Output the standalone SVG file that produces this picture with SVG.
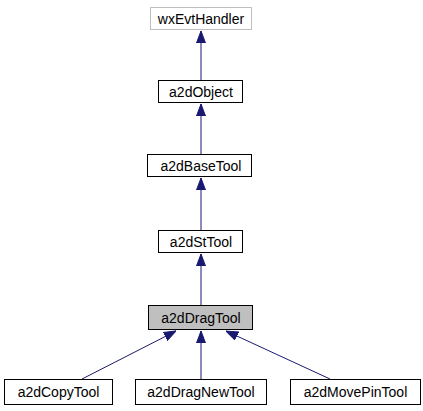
<svg xmlns="http://www.w3.org/2000/svg" width="423" height="411" viewBox="0 0 423 411">
<defs>
<style>
.box{fill:#ffffff;stroke:#000000;stroke-width:1}
.gbox{fill:#ffffff;stroke:#bfbfbf;stroke-width:1}
.cur{fill:#bfbfbf;stroke:#000000;stroke-width:1}
.lbl{font-family:"Liberation Sans",Arial,sans-serif;font-size:14px;fill:#000000;text-anchor:middle}
.edge{stroke:#191970;stroke-width:1;fill:none}
</style>
<marker id="ah" viewBox="0 0 12 10" refX="12" refY="5" markerWidth="12" markerHeight="10" markerUnits="userSpaceOnUse" orient="auto">
<path d="M0,0.5 L12,5 L0,9.5 Z" fill="#191970" stroke="#191970"/>
</marker>
</defs>
<rect width="423" height="411" fill="#ffffff"/>
<g id="edges">
<line class="edge" x1="201" y1="80" x2="201" y2="31" marker-end="url(#ah)"/>
<line class="edge" x1="201" y1="154" x2="201" y2="104" marker-end="url(#ah)"/>
<line class="edge" x1="201" y1="230" x2="201" y2="178" marker-end="url(#ah)"/>
<line class="edge" x1="201" y1="305" x2="201" y2="254" marker-end="url(#ah)"/>
<line class="edge" x1="201" y1="379" x2="201" y2="331" marker-end="url(#ah)"/>
<line class="edge" x1="82" y1="379" x2="176" y2="331" marker-end="url(#ah)"/>
<line class="edge" x1="330" y1="379" x2="226" y2="331" marker-end="url(#ah)"/>
</g>
<g id="wxEvtHandler"><rect class="gbox" x="150.5" y="7.5" width="101" height="22"/><text class="lbl" x="201" y="23.5">wxEvtHandler</text></g>
<g id="a2dObject"><rect class="box" x="158.5" y="80.5" width="84" height="22"/><text class="lbl" x="201" y="96.5">a2dObject</text></g>
<g id="a2dBaseTool"><rect class="box" x="147.5" y="154.5" width="104" height="22"/><text class="lbl" x="201" y="170.5">a2dBaseTool</text></g>
<g id="a2dStTool"><rect class="box" x="158.5" y="230.5" width="84" height="22"/><text class="lbl" x="201" y="246.5">a2dStTool</text></g>
<g id="a2dDragTool"><rect class="cur" x="148.5" y="305.5" width="104" height="24"/><text class="lbl" x="201" y="322.5">a2dDragTool</text></g>
<g id="a2dCopyTool"><rect class="box" x="4.5" y="379.5" width="108" height="25"/><text class="lbl" x="58.5" y="397">a2dCopyTool</text></g>
<g id="a2dDragNewTool"><rect class="box" x="135.5" y="379.5" width="131" height="25"/><text class="lbl" x="201" y="397">a2dDragNewTool</text></g>
<g id="a2dMovePinTool"><rect class="box" x="290.5" y="379.5" width="130" height="25"/><text class="lbl" x="355.5" y="397">a2dMovePinTool</text></g>
</svg>
